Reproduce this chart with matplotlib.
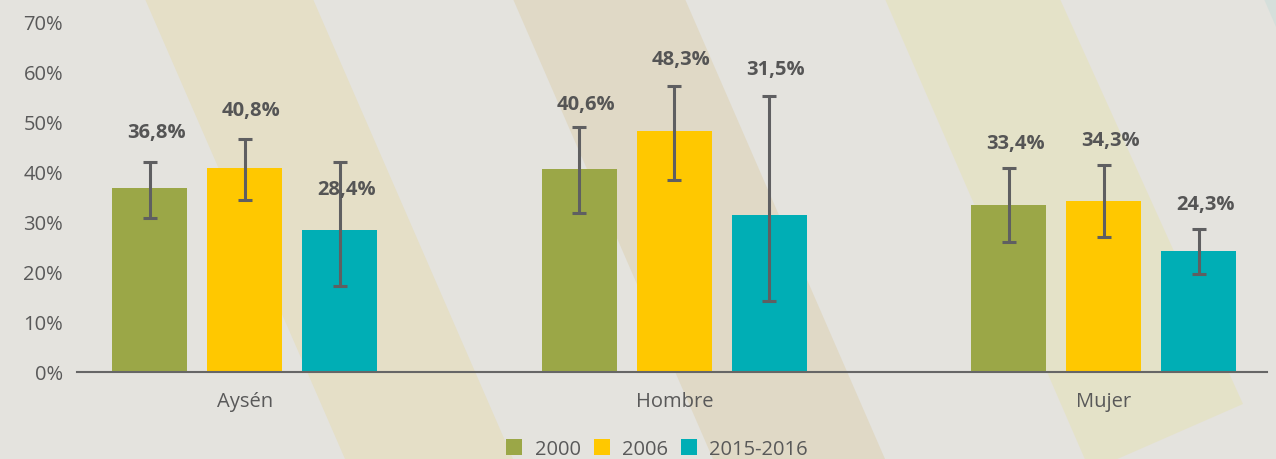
import numpy as np
import matplotlib.pyplot as plt
from matplotlib.patches import Polygon, Patch

# -------------------------------
# data
# -------------------------------
categories = ["Aysén", "Hombre", "Mujer"]
years = ["2000", "2006", "2015-2016"]

v2000 = [36.8, 40.6, 33.4]
v2006 = [40.8, 48.3, 34.3]
v2015 = [28.4, 31.5, 24.3]

# confidence interval bounds
lo2000 = [30.8, 31.9, 26.0]
hi2000 = [42.1, 49.0, 40.8]
lo2006 = [34.4, 38.4, 27.0]
hi2006 = [46.6, 57.3, 41.5]
lo2015 = [17.3, 14.2, 19.6]
hi2015 = [42.0, 55.3, 28.7]

# where the value labels sit (in %)
lab2000 = [47.9, 53.5, 45.7]
lab2006 = [52.3, 62.5, 46.4]
lab2015 = [36.5, 60.5, 33.5]

colors = ["#9ba747", "#ffc800", "#00aeb5"]
bg = "#e4e3de"
txt = "#595959"

plt.rcParams['font.family'] = ['Open Sans', 'DejaVu Sans']

W, H = 1276, 460
fig = plt.figure(figsize=(W / 100, H / 100), dpi=100)
fig.patch.set_facecolor(bg)

# background diagonal stripes (pixel coords)
bgax = fig.add_axes([0, 0, 1, 1], zorder=0)
bgax.set_xlim(0, W)
bgax.set_ylim(H, 0)
bgax.axis("off")
stripes = [
    ([(145, 0), (313, 0), (513, 460), (345, 460)], "#e5dfc7"),
    ([(513, 0), (685, 0), (885, 460), (713, 460)], "#e0d9c6"),
    ([(885, 0), (1060, 0), (1243, 405), (1090, 472)], "#e4e2c8"),
    ([(1264, 0), (1276, 0), (1276, 28)], "#d5dfdb"),
]
for pts, c in stripes:
    bgax.add_patch(Polygon(pts, closed=True, facecolor=c, edgecolor="none"))

# main axes
ax = fig.add_axes([77 / W, (H - 373) / H, (1267 - 77) / W, (373 - 23) / H], zorder=1)
ax.patch.set_alpha(0)

x = np.arange(len(categories))
step = 95 / 429.5
width = 75 / 429.5

series = [(v2000, lo2000, hi2000, lab2000),
          (v2006, lo2006, hi2006, lab2006),
          (v2015, lo2015, hi2015, lab2015)]

for i, (vals, lo, hi, lab) in enumerate(series):
    xs = x + (i - 1) * step
    vals = np.array(vals)
    ax.bar(xs, vals, width, color=colors[i], zorder=2)
    yerr = [vals - np.array(lo), np.array(hi) - vals]
    ax.errorbar(xs, vals, yerr=yerr, fmt="none", ecolor="#5f5f61",
                elinewidth=2.2, capsize=5, capthick=2.2, zorder=3)
    for xx, v, ly in zip(xs, vals, lab):
        ax.annotate(f"{v:.1f}%".replace(".", ","), (xx, ly), xytext=(4.5, 0),
                    textcoords="offset points", ha="center", va="center",
                    fontsize=14.5, fontweight="bold", color="#555555", zorder=4)

ax.set_ylim(0, 70)
ax.set_xlim(-0.391, 2.380)
ax.set_yticks(range(0, 71, 10))
ax.set_yticklabels([f"{t}%" for t in range(0, 71, 10)])
ax.set_xticks(x)
ax.set_xticklabels(categories)
ax.tick_params(axis="both", length=0, labelsize=14.5, colors=txt)
ax.tick_params(axis="y", pad=10)
ax.tick_params(axis="x", pad=14)

for s in ["top", "right", "left"]:
    ax.spines[s].set_visible(False)
ax.spines["bottom"].set_color("#666666")
ax.spines["bottom"].set_linewidth(1.5)

handles = [Patch(facecolor=c, edgecolor="none") for c in colors]
fig.legend(handles, years, loc="center", bbox_to_anchor=(657 / W, (H - 450) / H),
           ncol=3, frameon=False, fontsize=14.5, labelcolor=txt,
           handlelength=0.8, handleheight=0.8, handletextpad=0.6,
           columnspacing=0.65, borderpad=0, borderaxespad=0)

plt.savefig("out.png", dpi=100, facecolor=bg)
